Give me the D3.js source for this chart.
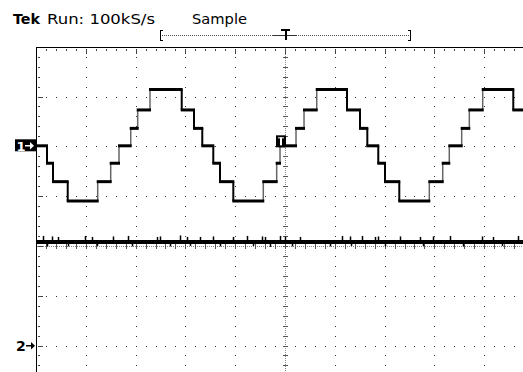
<!DOCTYPE html>
<html><head><meta charset="utf-8">
<script src="https://cdn.jsdelivr.net/npm/d3@7"></script>
<style>html,body{margin:0;padding:0;background:#fff;overflow:hidden}</style>
</head><body>
<script>
// ---- data (divisions) ----
const headerTexts = ["Tek", "Run: 100kS/s", "Sample"];
const ch1Offset = 2;      // channel 1 ground marker (div)
const ch2Offset = -2;     // channel 2 ground marker (div)
const ch1Times = [0, 0.221, 0.341, 0.637, 1.239, 1.5, 1.667, 1.902, 2.042, 2.289,
  2.926, 3.173, 3.339, 3.56, 3.695, 3.962, 4.564, 4.833, 4.9, 5.221,
  5.382, 5.637, 6.245, 6.506, 6.653, 6.873, 7.008, 7.295, 7.898, 8.167,
  8.299, 8.548, 8.701, 8.97, 9.584];
const ch1Levels = [0.01, -0.34, -0.71, -1.10, -0.71, -0.34, 0.01, 0.36, 0.73, 1.14,
  0.73, 0.36, 0.01, -0.34, -0.71, -1.10, -0.71, -0.34, 0.01, 0.36,
  0.73, 1.14, 0.73, 0.36, 0.01, -0.34, -0.71, -1.10, -0.71, -0.34,
  0.01, 0.36, 0.73, 1.14, 0.73];
const ch1End = 9.78;
const ch2Level = 2.08;
const ch2SpikeTimes = [0.14, 0.22, 0.32, 0.44, 0.64, 0.98, 1.12, 1.22, 1.55, 1.85, 1.93, 2.43,
  2.49, 2.69, 2.89, 3.03, 3.09, 3.29, 3.55, 3.69, 3.96, 4.24, 4.36, 4.54, 4.6, 4.7,
  4.9, 5.0, 5.14, 5.3, 5.9, 6.14, 6.3, 6.32, 6.55, 6.8, 6.87, 7.01, 7.31, 7.71, 7.77,
  7.97, 8.31, 8.57, 8.96, 9.18, 9.36, 9.68];
const ch2SpikeHeights = [0.08, -0.05, 0.07, 0.06, -0.05, 0.08, 0.06, -0.04, 0.07, 0.08, -0.05, 0.06,
  0.07, -0.05, 0.09, 0.06, -0.04, 0.06, 0.07, -0.05, 0.06, 0.08, -0.04, 0.07, 0.06, -0.06,
  0.08, 0.07, -0.05, 0.06, -0.05, 0.08, 0.07, -0.04, 0.08, 0.06, 0.07, -0.05, 0.07, 0.06, -0.04,
  0.07, 0.08, -0.05, 0.07, 0.06, -0.04, 0.08];
const triggerPos = 5;     // div
const triggerLevel = 0.1; // div relative to ch1 ground
const recordStart = 2.49, recordEnd = 7.51;

// ---- setup ----
const W = 523, H = 372;
const x = d3.scaleLinear().domain([0, 10]).range([36, 534]);
const y = d3.scaleLinear().domain([-4, 4]).range([445.1, 46.7]);
const R = v => Math.round(v);
const svg = d3.select("body").append("svg").attr("width", W).attr("height", H)
  .style("display", "block");
svg.append("rect").attr("width", W).attr("height", H).attr("fill", "#fff");

const g = svg.append("g");
const dots = [];
for (let i = 1; i < 10; i++) {
  if (i === 5) continue;
  for (let j = 1; j < 40; j++) dots.push([R(x(i)), R(y(-4 + j * 0.2))]);
}
for (let k = -3; k <= 3; k++) {
  if (k === 0) continue;
  for (let m = 1; m < 50; m++) dots.push([R(x(m * 0.2)), R(y(k))]);
}
g.selectAll("rect.dot").data(dots).join("rect").attr("class", "dot")
  .attr("x", d => d[0]).attr("y", d => d[1]).attr("width", 1).attr("height", 1).attr("fill", "#333");

const cx = R(x(5)), cy = R(y(0));
const topY = R(y(4)), leftX = R(x(0));
const cd = [];
for (let yy = topY + 1; yy < H; yy += 2) cd.push([cx, yy]);
for (let xx = leftX + 1; xx < W; xx += 2) cd.push([xx, cy]);
g.selectAll("rect.cd").data(cd).join("rect").attr("class", "cd")
  .attr("x", d => d[0]).attr("y", d => d[1]).attr("width", 1).attr("height", 1).attr("fill", "#888");
const ct = [];
for (let j = 1; j < 40; j++) ct.push(R(y(-4 + j * 0.2)));
g.selectAll("rect.vt").data(ct).join("rect").attr("class", "vt")
  .attr("x", cx - 2).attr("y", d => d).attr("width", 5).attr("height", 1).attr("fill", "#555");
const ctx = [];
for (let m = 1; m < 50; m++) ctx.push(R(x(m * 0.2)));
g.selectAll("rect.ht").data(ctx).join("rect").attr("class", "ht")
  .attr("x", d => d).attr("y", cy - 2).attr("width", 1).attr("height", 5).attr("fill", "#555");

g.append("rect").attr("x", leftX).attr("y", topY).attr("width", W - leftX).attr("height", 1).attr("fill", "#000");
g.append("rect").attr("x", leftX).attr("y", topY).attr("width", 1).attr("height", H - topY).attr("fill", "#000");
const tt = [];
for (let m = 1; m < 50; m++) tt.push(m);
g.selectAll("rect.tt").data(tt).join("rect").attr("class", "tt")
  .attr("x", d => R(x(d * 0.2))).attr("y", topY + 2).attr("width", 1)
  .attr("height", d => d % 5 === 0 ? 5 : 2).attr("fill", "#444");
const lt = [];
for (let j = 1; j < 40; j++) lt.push(j);
g.selectAll("rect.lt").data(lt).join("rect").attr("class", "lt")
  .attr("x", leftX + 2).attr("y", d => R(y(4 - d * 0.2))).attr("height", 1)
  .attr("width", d => d % 5 === 0 ? 5 : 2).attr("fill", "#444");

// ---- channel 2 ----
const c2y = y(ch2Offset + ch2Level);
svg.append("line").attr("x1", leftX + 1).attr("x2", W).attr("y1", c2y).attr("y2", c2y)
  .attr("stroke", "#000").attr("stroke-width", 4);
svg.selectAll("line.sp").data(ch2SpikeTimes).join("line").attr("class", "sp")
  .attr("x1", d => R(x(d)) + 0.5).attr("x2", d => R(x(d)) + 0.5)
  .attr("y1", c2y).attr("y2", (d, i) => y(ch2Offset + ch2Level + ch2SpikeHeights[i]) + (ch2SpikeHeights[i] > 0 ? -2 : 2))
  .attr("stroke", "#000").attr("stroke-width", 1.5);

// ---- channel 1 ----
const segs = ch1Times.map((t, i) => ({
  t0: t, t1: i < ch1Times.length - 1 ? ch1Times[i + 1] : ch1End, v: ch1Levels[i]
}));
const c1 = svg.append("g");
const edges = segs.slice(1).map((s, i) => ({ t: s.t0, a: segs[i].v, b: s.v }));
c1.selectAll("line.e").data(edges).join("line").attr("class", "e")
  .attr("x1", d => x(d.t)).attr("x2", d => x(d.t))
  .attr("y1", d => y(ch1Offset + d.a)).attr("y2", d => y(ch1Offset + d.b))
  .attr("stroke", d => d.b < d.a ? "#000" : "#666")
  .attr("stroke-width", d => d.b < d.a ? 2 : 1.5);
c1.selectAll("line.h").data(segs).join("line").attr("class", "h")
  .attr("x1", d => x(d.t0) - 1).attr("x2", d => x(d.t1) + 1)
  .attr("y1", d => y(ch1Offset + d.v)).attr("y2", d => y(ch1Offset + d.v))
  .attr("stroke", "#000").attr("stroke-width", 3);

const tx = x(triggerPos), ty = y(ch1Offset + triggerLevel);
svg.append("rect").attr("x", tx - 9).attr("y", ty - 6).attr("width", 10).attr("height", 12).attr("fill", "#000");
svg.append("rect").attr("x", tx - 7).attr("y", ty - 4).attr("width", 6).attr("height", 1).attr("fill", "#fff");
svg.append("rect").attr("x", tx - 5).attr("y", ty - 4).attr("width", 2).attr("height", 8).attr("fill", "#fff");

// ---- channel markers ----
function arrow(x0, yc, color) {
  svg.append("rect").attr("x", x0).attr("y", R(yc) - 1).attr("width", 7).attr("height", 1.5).attr("fill", color);
  svg.append("path").attr("d", `M${x0 + 5},${R(yc) - 4}L${x0 + 9},${R(yc) - 0.25}L${x0 + 5},${R(yc) + 3.5}Z`).attr("fill", color);
}
const m1 = y(ch1Offset);
svg.append("rect").attr("x", 15).attr("y", m1 - 7).attr("width", 21).attr("height", 12).attr("fill", "#000");
svg.append("text").attr("x", 16.5).attr("y", m1 + 4.5).text("1")
  .attr("font-family", "DejaVu Sans").attr("font-weight", "bold").attr("font-size", 13).attr("fill", "#fff");
arrow(25, m1, "#fff");
const m2 = y(ch2Offset);
svg.append("text").attr("x", 16).attr("y", m2 + 5.5).text("2")
  .attr("font-family", "DejaVu Sans").attr("font-weight", "bold").attr("font-size", 14).attr("fill", "#000");
arrow(26, m2, "#000");

// ---- header ----
const hf = "DejaVu Sans";
svg.append("text").attr("x", 13).attr("y", 24).text(headerTexts[0])
  .attr("font-family", hf).attr("font-weight", "bold").attr("font-size", 14.5).attr("fill", "#000")
  .attr("textLength", 27).attr("lengthAdjust", "spacingAndGlyphs");
svg.append("text").attr("x", 47).attr("y", 24).text(headerTexts[1])
  .attr("font-family", hf).attr("font-size", 14.5).attr("fill", "#000")
  .attr("textLength", 108).attr("lengthAdjust", "spacingAndGlyphs");
svg.append("text").attr("x", 192).attr("y", 24).text(headerTexts[2])
  .attr("font-family", hf).attr("font-size", 14.5).attr("fill", "#000")
  .attr("textLength", 55).attr("lengthAdjust", "spacingAndGlyphs");

const bx0 = R(x(recordStart)), bx1 = R(x(recordEnd)), by = 35;
const bd = [];
for (let xx = bx0 + 2; xx < bx1 - 1; xx += 2) bd.push(xx);
svg.selectAll("rect.bd").data(bd).join("rect").attr("class", "bd")
  .attr("x", d => d).attr("y", by).attr("width", 1).attr("height", 1).attr("fill", "#555");
svg.append("rect").attr("x", R(tx) - 12).attr("y", by).attr("width", 24).attr("height", 1).attr("fill", "#333");
svg.append("rect").attr("x", bx0).attr("y", by - 5).attr("width", 1).attr("height", 11).attr("fill", "#000");
svg.append("rect").attr("x", bx0).attr("y", by - 5).attr("width", 3).attr("height", 1).attr("fill", "#000");
svg.append("rect").attr("x", bx0).attr("y", by + 5).attr("width", 3).attr("height", 1).attr("fill", "#000");
svg.append("rect").attr("x", bx1).attr("y", by - 5).attr("width", 1).attr("height", 11).attr("fill", "#000");
svg.append("rect").attr("x", bx1 - 2).attr("y", by - 5).attr("width", 3).attr("height", 1).attr("fill", "#000");
svg.append("rect").attr("x", bx1 - 2).attr("y", by + 5).attr("width", 3).attr("height", 1).attr("fill", "#000");
svg.append("rect").attr("x", R(tx) - 4).attr("y", by - 6).attr("width", 9).attr("height", 2).attr("fill", "#000");
svg.append("rect").attr("x", R(tx)).attr("y", by - 6).attr("width", 2).attr("height", 11).attr("fill", "#000");
</script>
</body></html>
